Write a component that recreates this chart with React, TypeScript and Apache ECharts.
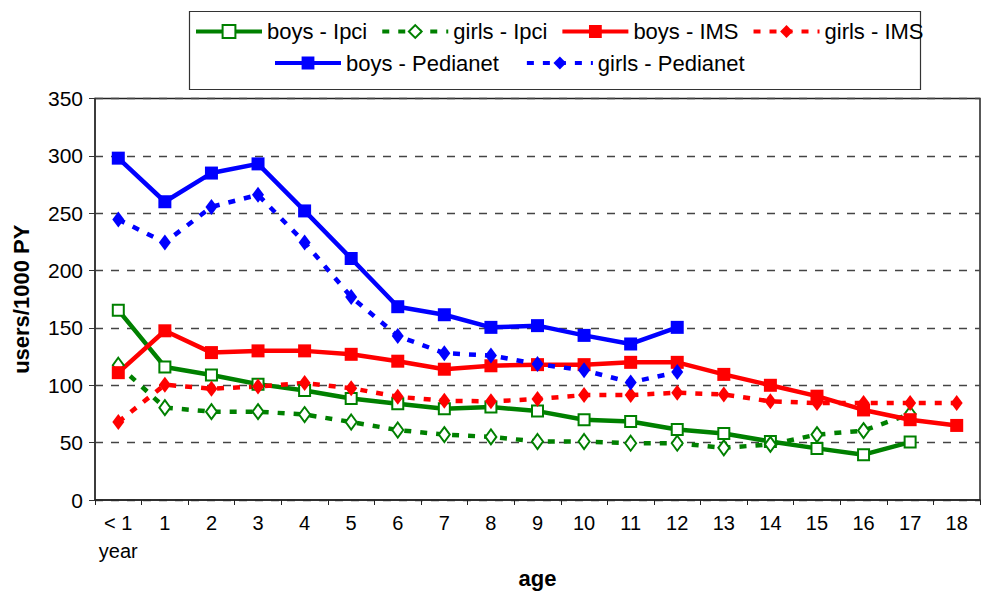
import React, { useEffect, useRef } from "react";
import * as echarts from "echarts";

const categories = ["< 1\nyear", "1", "2", "3", "4", "5", "6", "7", "8", "9", "10", "11", "12", "13", "14", "15", "16", "17", "18"];

const boysIpci = [165.5, 116, 109, 101, 95.5, 88.5, 84, 79.5, 81, 77.5, 70, 68.5, 61.5, 58, 51, 45, 39.5, 50.5, null];
const girlsIpci = [117.5, 80.5, 77, 77, 74.5, 68, 61, 57, 55, 51, 51, 49.5, 49.5, 45.5, 48.5, 57, 60.5, 75, null];
const boysIMS = [111, 147.5, 128.5, 130, 130, 127, 121, 114, 117, 118, 118, 120, 120, 109.5, 100, 90.5, 78.5, 70, 65];
const girlsIMS = [68, 100.5, 97, 99, 102, 97.5, 90, 86.5, 86, 88, 91.5, 91.5, 93.5, 92, 86, 84.5, 84.5, 84.5, 84.5];
const boysPedianet = [298, 260, 285, 293, 252, 210.5, 168.5, 161.5, 150.5, 152, 143.5, 136, 150.5, null, null, null, null, null, null];
const girlsPedianet = [244.5, 224.5, 255.5, 266, 224.5, 177, 143, 128, 126, 118.5, 113, 102.5, 111.5, null, null, null, null, null, null];

const FONT = "Liberation Sans, Arial, sans-serif";
const GREEN = "#008000";
const RED = "#ff0000";
const BLUE = "#0000ff";
const DASH = [7, 9];

export default function App() {
  const ref = useRef<HTMLDivElement>(null);
  useEffect(() => {
    if (!ref.current) return;
    const chart = echarts.init(ref.current, null, { renderer: "svg" });
    const solid = (name: string, data: any[], color: string, open: boolean) => ({
      name,
      type: "line",
      data,
      symbol: "rect",
      symbolSize: open ? 11 : 13,
      lineStyle: { color, width: 4.5, type: "solid" },
      itemStyle: open
        ? { color: "#ffffff", borderColor: color, borderWidth: 2 }
        : { color, borderColor: color, borderWidth: 0 },
      emphasis: { disabled: true },
    });
    const dashed = (name: string, data: any[], color: string, open: boolean) => ({
      name,
      type: "line",
      data,
      symbol: "diamond",
      symbolSize: open ? [11, 15] : [12, 16],
      lineStyle: { color, width: 4.5, type: DASH },
      itemStyle: open
        ? { color: "#ffffff", borderColor: color, borderWidth: 2 }
        : { color, borderColor: color, borderWidth: 0 },
      emphasis: { disabled: true },
    });
    const legendCommon = {
      orient: "horizontal",
      padding: 0,
      itemWidth: 66,
      itemHeight: 16,
      lineStyle: { width: 4 },
      textStyle: { fontSize: 22, color: "#000", fontFamily: FONT },
      selectedMode: false,
    };
    chart.setOption({
      animation: false,
      backgroundColor: "#ffffff",
      graphic: [
        {
          type: "rect",
          shape: { x: 189.5, y: 11.5, width: 731, height: 78 },
          style: { fill: "none", stroke: "#333", lineWidth: 1.2 },
          z: 0,
        },
      ],
      legend: [
        {
          ...legendCommon,
          left: 194,
          top: 20.5,
          itemGap: 13,
          data: ["boys - Ipci", "girls - Ipci", "boys - IMS", "girls - IMS"],
        },
        {
          ...legendCommon,
          left: 273,
          top: 52,
          itemGap: 26,
          data: ["boys - Pedianet", "girls - Pedianet"],
        },
      ],
      grid: {
        left: 95,
        right: 5,
        top: 98.5,
        bottom: 92,
        show: true,
        borderColor: "#222",
        borderWidth: 1.5,
        backgroundColor: "transparent",
        containLabel: false,
        outerBoundsMode: "none",
      },
      xAxis: {
        type: "category",
        data: categories,
        boundaryGap: true,
        name: "age",
        nameLocation: "middle",
        nameGap: 67,
        nameMoveOverlap: false,
        nameTextStyle: { fontSize: 22, fontWeight: "bold", color: "#000", fontFamily: FONT },
        axisLine: { show: true, lineStyle: { color: "#222", width: 1.5 } },
        axisTick: { show: true, inside: false, length: 5, lineStyle: { color: "#222", width: 1 } },
        axisLabel: {
          fontSize: 20,
          color: "#000",
          fontFamily: FONT,
          margin: 9,
          lineHeight: 28,
          interval: 0,
        },
        splitLine: { show: false },
      },
      yAxis: {
        type: "value",
        min: 0,
        max: 350,
        interval: 50,
        name: "users/1000 PY",
        nameLocation: "middle",
        nameGap: 63,
        nameRotate: 90,
        nameMoveOverlap: false,
        nameTextStyle: { fontSize: 22, fontWeight: "bold", color: "#000", fontFamily: FONT },
        axisLine: { show: true, lineStyle: { color: "#333", width: 1.5 } },
        axisTick: { show: true, inside: false, length: 6, lineStyle: { color: "#333", width: 1 } },
        axisLabel: { fontSize: 21, color: "#000", fontFamily: FONT, margin: 12 },
        splitLine: { show: true, lineStyle: { color: "#444", width: 1.3, type: [8, 8] } },
      },
      series: [
        solid("boys - Ipci", boysIpci, GREEN, true),
        dashed("girls - Ipci", girlsIpci, GREEN, true),
        solid("boys - IMS", boysIMS, RED, false),
        dashed("girls - IMS", girlsIMS, RED, false),
        solid("boys - Pedianet", boysPedianet, BLUE, false),
        dashed("girls - Pedianet", girlsPedianet, BLUE, false),
      ],
    });
    return () => chart.dispose();
  }, []);
  return <div ref={ref} style={{ width: 985, height: 592, position: "absolute", left: 0, top: 0 }} />;
}
